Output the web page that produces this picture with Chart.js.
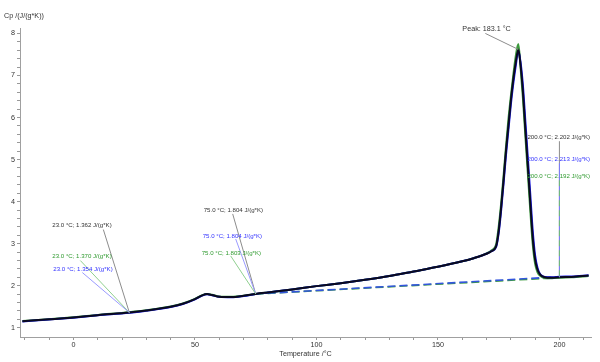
<!DOCTYPE html>
<html>
<head>
<meta charset="utf-8">
<script src="https://cdn.jsdelivr.net/npm/chart.js@4/dist/chart.umd.min.js"></script>
<style>
html,body{margin:0;padding:0;background:#fff;}
#c{display:block;}
</style>
</head>
<body>
<canvas id="c" width="600" height="362"></canvas>
<script>
// ---- data ----
const temps = [-21,-10,0,10,23,30,40,45,50,53,55,57,60,65,70,75,80,90,100,110,120,130,140,150,160,165,170,172,174,175,176,177,178,179,180,181,182,183.1,184,185,186,187,188,189,190,191,192,193,195,197,200,205,212];
const cpBlack = [1.155,1.20,1.245,1.30,1.362,1.41,1.50,1.57,1.68,1.77,1.80,1.78,1.74,1.73,1.76,1.804,1.84,1.91,1.99,2.06,2.14,2.23,2.34,2.45,2.58,2.66,2.76,2.82,2.95,3.30,3.85,4.50,5.20,5.80,6.40,6.90,7.30,7.62,7.25,6.60,5.70,4.85,3.98,3.15,2.62,2.38,2.27,2.22,2.19,2.19,2.202,2.21,2.24];
const cpBlue  = [1.150,1.195,1.240,1.295,1.354,1.405,1.495,1.565,1.675,1.765,1.795,1.775,1.735,1.725,1.755,1.804,1.84,1.91,1.99,2.06,2.14,2.23,2.34,2.45,2.58,2.66,2.76,2.82,2.93,3.25,3.78,4.42,5.10,5.70,6.30,6.80,7.22,7.58,7.32,6.75,5.90,5.05,4.18,3.32,2.72,2.42,2.28,2.23,2.20,2.20,2.213,2.22,2.25];
const cpGreen = [1.160,1.205,1.250,1.305,1.370,1.415,1.505,1.575,1.685,1.775,1.805,1.785,1.745,1.735,1.760,1.803,1.84,1.91,1.99,2.06,2.14,2.23,2.34,2.45,2.58,2.66,2.77,2.84,3.00,3.40,3.95,4.60,5.30,5.95,6.50,7.00,7.45,7.75,7.20,6.45,5.55,4.68,3.80,3.00,2.52,2.32,2.24,2.20,2.18,2.18,2.192,2.20,2.23];
const baseTemps = [75,200];
const baseBlue = [1.804,2.213];
const baseGreen = [1.803,2.192];
const xTicks = [-20,-10,0,10,20,30,40,50,60,70,80,90,100,110,120,130,140,150,160,170,180,190,200,210];
const xLabelled = [0,50,100,150,200];
const yTicks = [1,1.2,1.4,1.6,1.8,2,2.2,2.4,2.6,2.8,3,3.2,3.4,3.6,3.8,4,4.2,4.4,4.6,4.8,5,5.2,5.4,5.6,5.8,6,6.2,6.4,6.6,6.8,7,7.2,7.4,7.6,7.8,8];
const yLabelled = [1,2,3,4,5,6,7,8];

// ---- annotations (anchor in data units, label offsets in px) ----
const notes = [
  {x:23, y:1.362, text:'23.0 °C; 1.362 J/(g*K)', color:'#333333', line:'#8c8c8c', dx:-77, dy:-87, lx:-26, ly:-83},
  {x:23, y:1.362, text:'23.0 °C; 1.370 J/(g*K)', color:'#2f9a2f', line:'#8fcf8f', dx:-77, dy:-56, lx:-49, ly:-52},
  {x:23, y:1.362, text:'23.0 °C; 1.354 J/(g*K)', color:'#3333ff', line:'#9a9aff', dx:-76, dy:-43, lx:-47, ly:-40},
  {x:75, y:1.804, text:'75.0 °C; 1.804 J/(g*K)', color:'#333333', line:'#8c8c8c', dx:-52, dy:-84, lx:-23, ly:-80},
  {x:75, y:1.804, text:'75.0 °C; 1.804 J/(g*K)', color:'#3333ff', line:'#9a9aff', dx:-53, dy:-58, lx:-20, ly:-55},
  {x:75, y:1.804, text:'75.0 °C; 1.803 J/(g*K)', color:'#2f9a2f', line:'#8fcf8f', dx:-54, dy:-41, lx:-25, ly:-38},
  {x:200, y:2.202, text:'200.0 °C; 2.202 J/(g*K)', color:'#333333', line:'#8c8c8c', dx:-32, dy:-140, lx:0, ly:-136},
  {x:200, y:2.202, text:'200.0 °C; 2.213 J/(g*K)', color:'#3333ff', line:'#7a7aff', dx:-32, dy:-118, lx:0, ly:-114},
  {x:200, y:2.202, text:'200.0 °C; 2.192 J/(g*K)', color:'#2f9a2f', line:'#6fbf6f', dx:-32, dy:-101, lx:0, ly:-97, dash:true},
  {x:183.1, y:7.62, text:'Peak: 183.1 °C', color:'#333333', line:'#8c8c8c', dx:-56, dy:-20, lx:-33, ly:-16, big:true}
];

const FONT = '"Liberation Sans", Arial, sans-serif';

function pts(xs, ys){ return xs.map((t,i)=>({x:t, y:ys[i]})); }

const notePlugin = {
  id:'notes',
  afterDatasetsDraw(chart){
    const ctx = chart.ctx, xs = chart.scales.x, ys = chart.scales.y;
    ctx.save();
    notes.forEach(n=>{
      const px = xs.getPixelForValue(n.x), py = ys.getPixelForValue(n.y);
      ctx.strokeStyle = n.line; ctx.lineWidth = 1;
      ctx.setLineDash(n.dash ? [6,4] : []);
      ctx.beginPath(); ctx.moveTo(px + n.lx, py + n.ly); ctx.lineTo(px, py); ctx.stroke();
    });
    ctx.setLineDash([]);
    notes.forEach(n=>{
      const px = xs.getPixelForValue(n.x), py = ys.getPixelForValue(n.y);
      ctx.fillStyle = n.color;
      ctx.font = (n.big ? '7.2px ' : '6.1px ') + FONT;
      ctx.textAlign = 'left'; ctx.textBaseline = 'middle';
      ctx.fillText(n.text, px + n.dx, py + n.dy);
    });
    // y axis title
    ctx.fillStyle = '#333';
    ctx.font = '7.2px ' + FONT;
    ctx.textAlign = 'left'; ctx.textBaseline = 'middle';
    ctx.fillText('Cp /(J/(g*K))', 4, 16);
    ctx.restore();
  }
};

const curve = (label, color, ys) => ({
  label, data: pts(temps, ys), borderColor: color, borderWidth: 2,
  pointRadius: 0, cubicInterpolationMode: 'monotone', fill: false
});
const base = (label, color, ys) => ({
  label, data: pts(baseTemps, ys), borderColor: color, borderWidth: 1.6,
  borderDash: [8,4], pointRadius: 0, fill: false
});

new Chart(document.getElementById('c'), {
  type: 'line',
  data: {
    datasets: [
      curve('black', '#0a0a1e', cpBlack),
      curve('blue', '#1414e6', cpBlue),
      curve('green', '#3c9a3c', cpGreen),
      base('blue baseline', '#3355dd', baseBlue),
      base('green baseline', '#3c9a3c', baseGreen)
    ]
  },
  options: {
    responsive: false,
    animation: false,
    events: [],
    layout: { padding: { top: 28, right: 9, left: 0, bottom: 0 } },
    plugins: { legend: { display: false }, tooltip: { enabled: false } },
    scales: {
      x: {
        type: 'linear', min: -22, max: 213,
        afterBuildTicks: s => { s.ticks = xTicks.map(v => ({ value: v })); },
        afterFit: s => { s.height = 25; },
        grid: { drawOnChartArea: false, tickLength: 3, tickColor: '#999' },
        border: { color: '#a0a0a0' },
        ticks: {
          autoSkip: false, maxRotation: 0, padding: 1, color: '#333',
          font: { family: FONT, size: 7.2 },
          callback: v => xLabelled.includes(v) ? String(v) : ''
        },
        title: { display: true, text: 'Temperature /°C', color: '#333',
          font: { family: FONT, size: 7.2 }, padding: { top: 0, bottom: 4 } }
      },
      y: {
        type: 'linear', min: 0.78, max: 8.13,
        afterBuildTicks: s => { s.ticks = yTicks.map(v => ({ value: v })); },
        afterFit: s => { s.width = 20; },
        grid: { drawOnChartArea: false, tickLength: 3, tickColor: '#999' },
        border: { color: '#a0a0a0' },
        ticks: {
          autoSkip: false, padding: 2, color: '#333',
          font: { family: FONT, size: 7.2 },
          callback: v => yLabelled.includes(v) ? String(v) : ''
        }
      }
    }
  },
  plugins: [notePlugin]
});
</script>
</body>
</html>
